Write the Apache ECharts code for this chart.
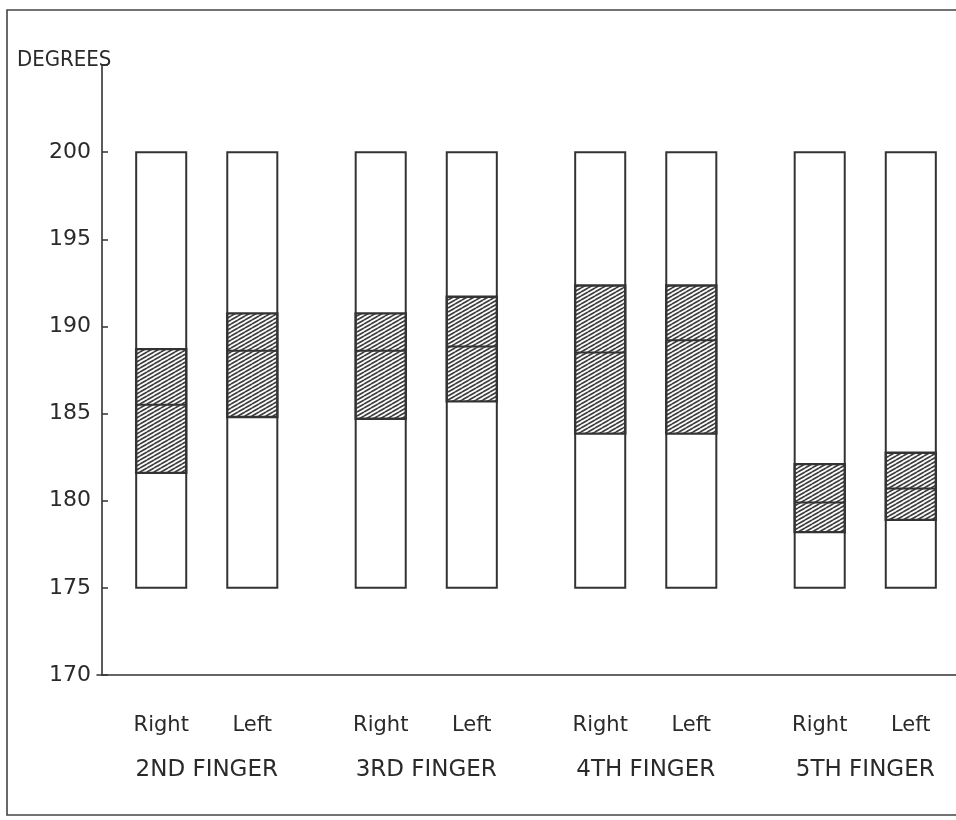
<!DOCTYPE html>
<html>
<head>
<meta charset="utf-8">
<script src="https://cdn.jsdelivr.net/npm/echarts@6/dist/echarts.min.js"></script>
<style>
html,body{margin:0;padding:0;background:#fff;}
#chart{width:956px;height:820px;}
</style>
</head>
<body>
<div id="chart"></div>
<script>
// ---- data ----
const fingers = ['2ND FINGER', '3RD FINGER', '4TH FINGER', '5TH FINGER'];
const sides = ['Right', 'Left'];
const barMin = [175, 175, 175, 175];
const barMax = [200, 200, 200, 200];
const rightLow  = [181.6, 184.7, 183.85, 178.2];
const rightMean = [185.5, 188.6, 188.5, 179.9];
const rightHigh = [188.7, 190.75, 192.35, 182.1];
const leftLow   = [184.8, 185.7, 183.85, 178.9];
const leftMean  = [188.6, 188.85, 189.2, 180.7];
const leftHigh  = [190.75, 191.7, 192.35, 182.75];
const yTickLabels = [170, 175, 180, 185, 190, 195, 200];
const yAxisName = 'DEGREES';

// ---- build ----
const seriesData = [];
fingers.forEach((f, gi) => {
  seriesData.push([gi, 0, barMin[gi], rightLow[gi], rightMean[gi], rightHigh[gi], barMax[gi]]);
  seriesData.push([gi, 1, barMin[gi], leftLow[gi], leftMean[gi], leftHigh[gi], barMax[gi]]);
});

function makeHatch() {
  const W = 7, H = 4;
  const c = document.createElement('canvas');
  c.width = W; c.height = H;
  const ctx = c.getContext('2d');
  ctx.fillStyle = '#ffffff';
  ctx.fillRect(0, 0, W, H);
  ctx.strokeStyle = '#3c3c3c';
  ctx.lineWidth = 1.7;
  for (let k = -1; k <= 1; k++) {
    ctx.beginPath();
    ctx.moveTo(0, H + k * H);
    ctx.lineTo(W, k * H);
    ctx.stroke();
  }
  return c;
}
const hatch = makeHatch();
const ink = '#333333';

const chart = echarts.init(document.getElementById('chart'), null, {renderer: 'canvas'});
chart.setOption({
  backgroundColor: '#ffffff',
  animation: false,
  title: {
    text: yAxisName, left: 12, top: 44,
    textStyle: {fontSize: 22, fontWeight: 'normal', color: '#2a2a2a', fontFamily: 'DejaVu Sans Condensed'}
  },
  graphic: [{
    type: 'rect', z: -1,
    shape: {x: 7, y: 10, width: 980, height: 805},
    style: {fill: null, stroke: '#444', lineWidth: 1.6}
  }],
  grid: {left: 97, width: 878, top: 65, bottom: 145, containLabel: false, outerBoundsMode: 'none'},
  xAxis: {
    type: 'category',
    data: fingers,
    axisTick: {show: false},
    axisLine: {lineStyle: {color: ink, width: 1.6}},
    axisLabel: {
      margin: 29,
      color: '#2a2a2a',
      fontFamily: 'DejaVu Sans',
      formatter: v => '{r|' + sides[0] + '}{l|' + sides[1] + '}\n{f|' + v + '}',
      rich: {
        r: {width: 91, align: 'center', fontSize: 21, lineHeight: 44, fontFamily: 'DejaVu Sans', color: '#2a2a2a'},
        l: {width: 91, align: 'center', fontSize: 21, lineHeight: 44, fontFamily: 'DejaVu Sans', color: '#2a2a2a'},
        f: {fontSize: 23, lineHeight: 44, fontFamily: 'DejaVu Sans', color: '#2a2a2a'}
      }
    }
  },
  yAxis: {
    type: 'value',
    min: 170, max: 205, interval: 5,
    offset: -5,
    splitLine: {show: false},
    axisLine: {show: true, lineStyle: {color: ink, width: 1.6}},
    axisTick: {show: true, inside: true, length: 6, lineStyle: {color: ink, width: 1.5}},
    axisLabel: {
      margin: 11, fontSize: 22, color: '#2a2a2a', fontFamily: 'DejaVu Sans',
      formatter: v => yTickLabels.indexOf(v) >= 0 ? String(v) : ''
    }
  },
  series: [{
    type: 'custom',
    data: seriesData,
    encode: {x: 0, y: [2, 6]},
    renderItem: function (params, api) {
      const gi = api.value(0), si = api.value(1);
      const band = api.size([1, 0])[0];
      const cx = api.coord([gi, api.value(2)])[0] + (si === 0 ? -1 : 1) * band * 0.2075;
      const w = band * 0.228;
      const x = cx - w / 2;
      const yB = api.coord([gi, api.value(2)])[1];
      const yL = api.coord([gi, api.value(3)])[1];
      const yM = api.coord([gi, api.value(4)])[1];
      const yH = api.coord([gi, api.value(5)])[1];
      const yT = api.coord([gi, api.value(6)])[1];
      return {
        type: 'group',
        children: [
          {type: 'rect', shape: {x: x, y: yT, width: w, height: yB - yT},
           style: {fill: '#fff', stroke: ink, lineWidth: 2}},
          {type: 'rect', shape: {x: x, y: yH, width: w, height: yL - yH},
           style: {fill: {image: hatch, repeat: 'repeat'}, stroke: ink, lineWidth: 2.4}},
          {type: 'line', shape: {x1: x, y1: yM, x2: x + w, y2: yM},
           style: {stroke: ink, lineWidth: 2}}
        ]
      };
    }
  }]
});
</script>
</body>
</html>
